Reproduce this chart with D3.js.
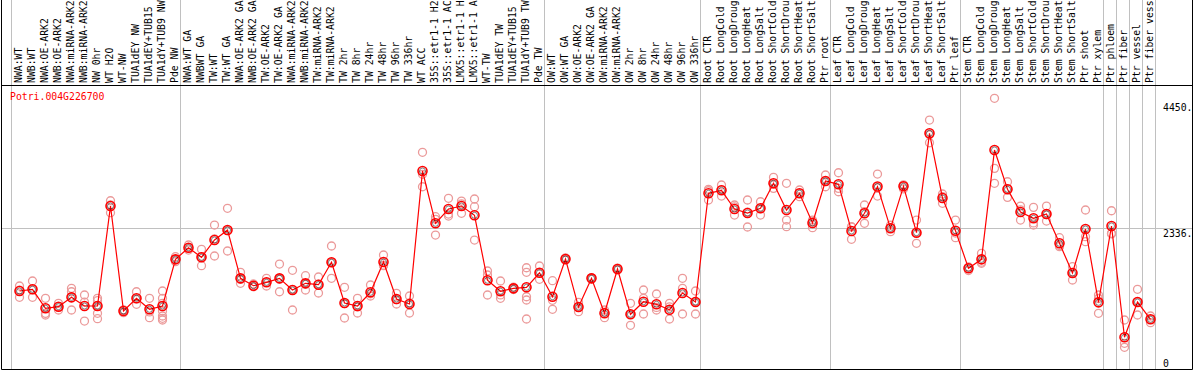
<!DOCTYPE html>
<html><head><meta charset="utf-8">
<script src="https://cdn.jsdelivr.net/npm/d3@7"></script>
<style>
body{margin:0;background:#fff}
svg{display:block}
text{font-family:"DejaVu Sans Mono",monospace;font-size:9.8px}
</style>
</head><body>
<svg id="chart" width="1194" height="370"></svg>
<script>
const labels = [
"NWA:WT","NWB:WT","NWA:OE-ARK2","NWB:OE-ARK2","NWA:miRNA-ARK2","NWB:miRNA-ARK2","NW 0hr","WT H2O","WT-NW","TUA1dEY NW","TUA1dEY+TUB15","TUA1dY+TUB9 NW","Pde NW",
"NWA:WT GA","NWBWT GA","TW:WT","TW:WT GA","NWA:OE-ARK2 GA","NWB:OE-ARK2 GA","TW:OE-ARK2","TW:OE-ARK2 GA","NWA:miRNA-ARK2","NWB:miRNA-ARK2","TW:miRNA-ARK2","TW:miRNA-ARK2","TW 2hr","TW 8hr","TW 24hr","TW 48hr","TW 96hr","TW 336hr","WT ACC","35S::etr1-1 H2O","35S::etr1-1 ACC","LMX5::etr1-1 H2O","LMX5::etr1-1 ACC","WT-TW","TUA1dEY TW","TUA1dEY+TUB15","TUA1dY+TUB9 TW","Pde TW",
"OW:WT","OW:WT GA","OW:OE-ARK2","OW:OE-ARK2 GA","OW:miRNA-ARK2","OW:miRNA-ARK2","OW 2hr","OW 8hr","OW 24hr","OW 48hr","OW 96hr","OW 336hr",
"Root CTR","Root LongCold","Root LongDrought","Root LongHeat","Root LongSalt","Root ShortCold","Root ShortDrought","Root ShortHeat","Root ShortSalt","Ptr root",
"Leaf CTR","Leaf LongCold","Leaf LongDrought","Leaf LongHeat","Leaf LongSalt","Leaf ShortCold","Leaf ShortDrought","Leaf ShortHeat","Leaf ShortSalt","Ptr leaf",
"Stem CTR","Stem LongCold","Stem LongDrought","Stem LongHeat","Stem LongSalt","Stem ShortCold","Stem ShortDrought","Stem ShortHeat","Stem ShortSalt","Ptr shoot","Ptr xylem",
"Ptr phloem","Ptr fiber","Ptr vessel","Ptr fiber vessel"
];
const labelMaxChars = 14;
const groupSizes = [13,28,12,10,10,11,1,1,1,1,1];
const means = [
1276,1305,986,1013,1170,1024,1024,2703,940,1154,969,1024,1808,
2003,1842,2133,2300,1489,1365,1422,1489,1293,1405,1382,1758,1075,1024,1254,1763,1142,1058,3291,2413,2653,2703,2547,1456,1271,1321,1338,1583,
1180,1813,1007,1489,902,1646,885,1096,1053,962,1243,1091,
2917,2967,2653,2586,2665,3085,2636,2917,2418,3123,
3068,2284,2581,3031,2329,3034,2255,3924,2838,2289,
1657,1808,3644,2984,2603,2497,2569,2077,1578,2317,1086,
2368,499,1091,801
];
const replicates = [
[1360,1170,1290],[1444,1170,1300],[1154,901,873],[1070,957,1013],[1321,1264,957],[1209,1090,772],[1154,1113,1030,902,811],[2792,2591,2720],[950,912,960],[1264,1053,1145],[1154,828,925],[1276,1154,1070,940,856,818,789],[1852,1768,1805],
[2049,1964,2000],[1976,1701,1850],[2384,1864,2150],[2665,1948,2290],[1590,1405,1470],[1394,1348,1355],[1489,1360,1420],[1729,1264,1475],[1624,957,1300],[1533,1293,1390],[1511,1243,1390],[2032,1489,1755],[1338,823,1065],[1154,907,1010],[1377,1230,1192],[1881,1701,1710],[1237,1058,1130],[1192,907,1075],[3605,3236,3027],[2524,2480,2216],[2833,2568,2535],[2787,2740,2581],[2821,2692,2132],[1612,1545,1209],[1444,1210,1154],[1340,1321,1300],[1667,1590,1180,1125,806],[1696,1473,1580],
[1449,969,1120],[1830,1813,1795],[1086,929,1007],[1500,1489,1480],[957,828,920],[1660,1646,1630],[1070,885,700],[1293,1154,890],[1226,1000,957],[1070,1010,806],[1489,1321,890],[1276,1100,890],
[2984,2960,2804],[3056,2975,2871],[2720,2690,2552],[2804,2600,2351],[2775,2660,2552],[3185,3070,3000],[3085,2468,2356],[2972,2917,2860],[2468,2440,2339],[3224,3120,3027],
[3262,3000,2943],[2356,2350,2144],[2720,2610,2413],[3240,3010,2871],[2380,2329,2272],[3060,3034,2990],[2468,2260,2077],[4147,3900,3766],[2905,2860,2749],[2468,2250,2171],
[1680,1657,1620],[1909,1760,1741],[4512,3336,3085],[3111,2990,2849],[2703,2640,2468],[2681,2420,2384],[2703,2560,2451],[2171,2040,2020],[1684,1590,1461],[2636,2188,2104],[1209,1150,902],
[2624,2245,2235],[789,398,331],[1305,1095,873],[856,800,744]
];
const yTickValues = [0, 2336, 4450];
const yTickLabels = ["0", "2336.", "4450."];
const geneId = "Potri.004G226700";

const W = 1194, H = 370;
const svg = d3.select("#chart");
const idx = d3.range(labels.length);
const x = d3.scaleBand().domain(idx).range([13, 13 + 13 * labels.length]).padding(0);
const cx = i => x(i) + x.bandwidth() / 2;
const y = d3.scaleLinear().domain([0, 4450]).range([367, 102]);

const headerY = 85, bottomY = 369.5, leftX = 1.5, rightX = 1192.5;

svg.append("rect").attr("width", W).attr("height", H).attr("fill", "#fff");

// group separators
const starts = [0];
groupSizes.forEach(s => starts.push(starts[starts.length - 1] + s));
const sepX = d => (d < labels.length ? x(d) : x(labels.length - 1) + x.bandwidth()) - 1.5;
svg.append("g").selectAll("line").data(starts).join("line")
  .attr("x1", sepX).attr("x2", sepX)
  .attr("y1", 0).attr("y2", bottomY)
  .attr("stroke", "#c0c0c0").attr("stroke-width", 1);

// mid grid line
svg.append("line").attr("x1", leftX).attr("x2", rightX)
  .attr("y1", Math.round(y(2336)) + 0.5).attr("y2", Math.round(y(2336)) + 0.5)
  .attr("stroke", "#c0c0c0").attr("stroke-width", 1);

// frame
svg.append("line").attr("x1", leftX).attr("x2", rightX).attr("y1", headerY + 0.5).attr("y2", headerY + 0.5).attr("stroke", "#000");
svg.append("line").attr("x1", leftX).attr("x2", rightX).attr("y1", bottomY).attr("y2", bottomY).attr("stroke", "#000");
svg.append("line").attr("x1", leftX).attr("x2", leftX).attr("y1", 0).attr("y2", bottomY).attr("stroke", "#000");
svg.append("line").attr("x1", rightX).attr("x2", rightX).attr("y1", 0).attr("y2", bottomY).attr("stroke", "#000");

// column labels (truncated to the visible length, as in the reference)
svg.append("g").selectAll("text").data(idx).join("text")
  .attr("transform", i => `translate(${cx(i) + 2},83) rotate(-90)`)
  .attr("fill", "#000")
  .text(i => labels[i].slice(0, labelMaxChars));

// replicates
const repData = [];
replicates.forEach((arr, i) => arr.forEach(v => repData.push({ i, v })));
svg.append("g").selectAll("circle").data(repData).join("circle")
  .attr("cx", d => cx(d.i)).attr("cy", d => y(d.v)).attr("r", 4)
  .attr("fill", "none").attr("stroke", "#eb9a9a").attr("stroke-width", 1.3);

// mean line
svg.append("path").datum(idx)
  .attr("d", d3.line().x(i => cx(i)).y(i => y(means[i])))
  .attr("fill", "none").attr("stroke", "#ff0000").attr("stroke-width", 1.2);

// mean markers
const mg = svg.append("g").selectAll("g").data(idx).join("g");
mg.append("circle").attr("cx", i => cx(i)).attr("cy", i => y(means[i])).attr("r", 4.5)
  .attr("fill", "none").attr("stroke", "#ff0000").attr("stroke-width", 1.6);
mg.append("circle").attr("cx", i => cx(i)).attr("cy", i => y(means[i])).attr("r", 3)
  .attr("fill", "none").attr("stroke", "#000").attr("stroke-width", 0.7).attr("opacity", 0.7);

// right axis labels
const axis = d3.axisRight(y).tickValues(yTickValues)
  .tickFormat((d, k) => yTickLabels[k]).tickSize(0).tickPadding(0);
const ag = svg.append("g").attr("transform", "translate(1163,0)").call(axis);
ag.select(".domain").remove();
ag.selectAll("text")
  .attr("font-family", "DejaVu Sans Mono, monospace").attr("font-size", 9.8)
  .attr("fill", "#000")
  .attr("dy", null)
  .attr("y", d => d === 0 ? -1 : 8.5);

// gene id
svg.append("text").attr("x", 10).attr("y", 100).attr("fill", "#ff0000").text(geneId);
</script>
</body></html>
